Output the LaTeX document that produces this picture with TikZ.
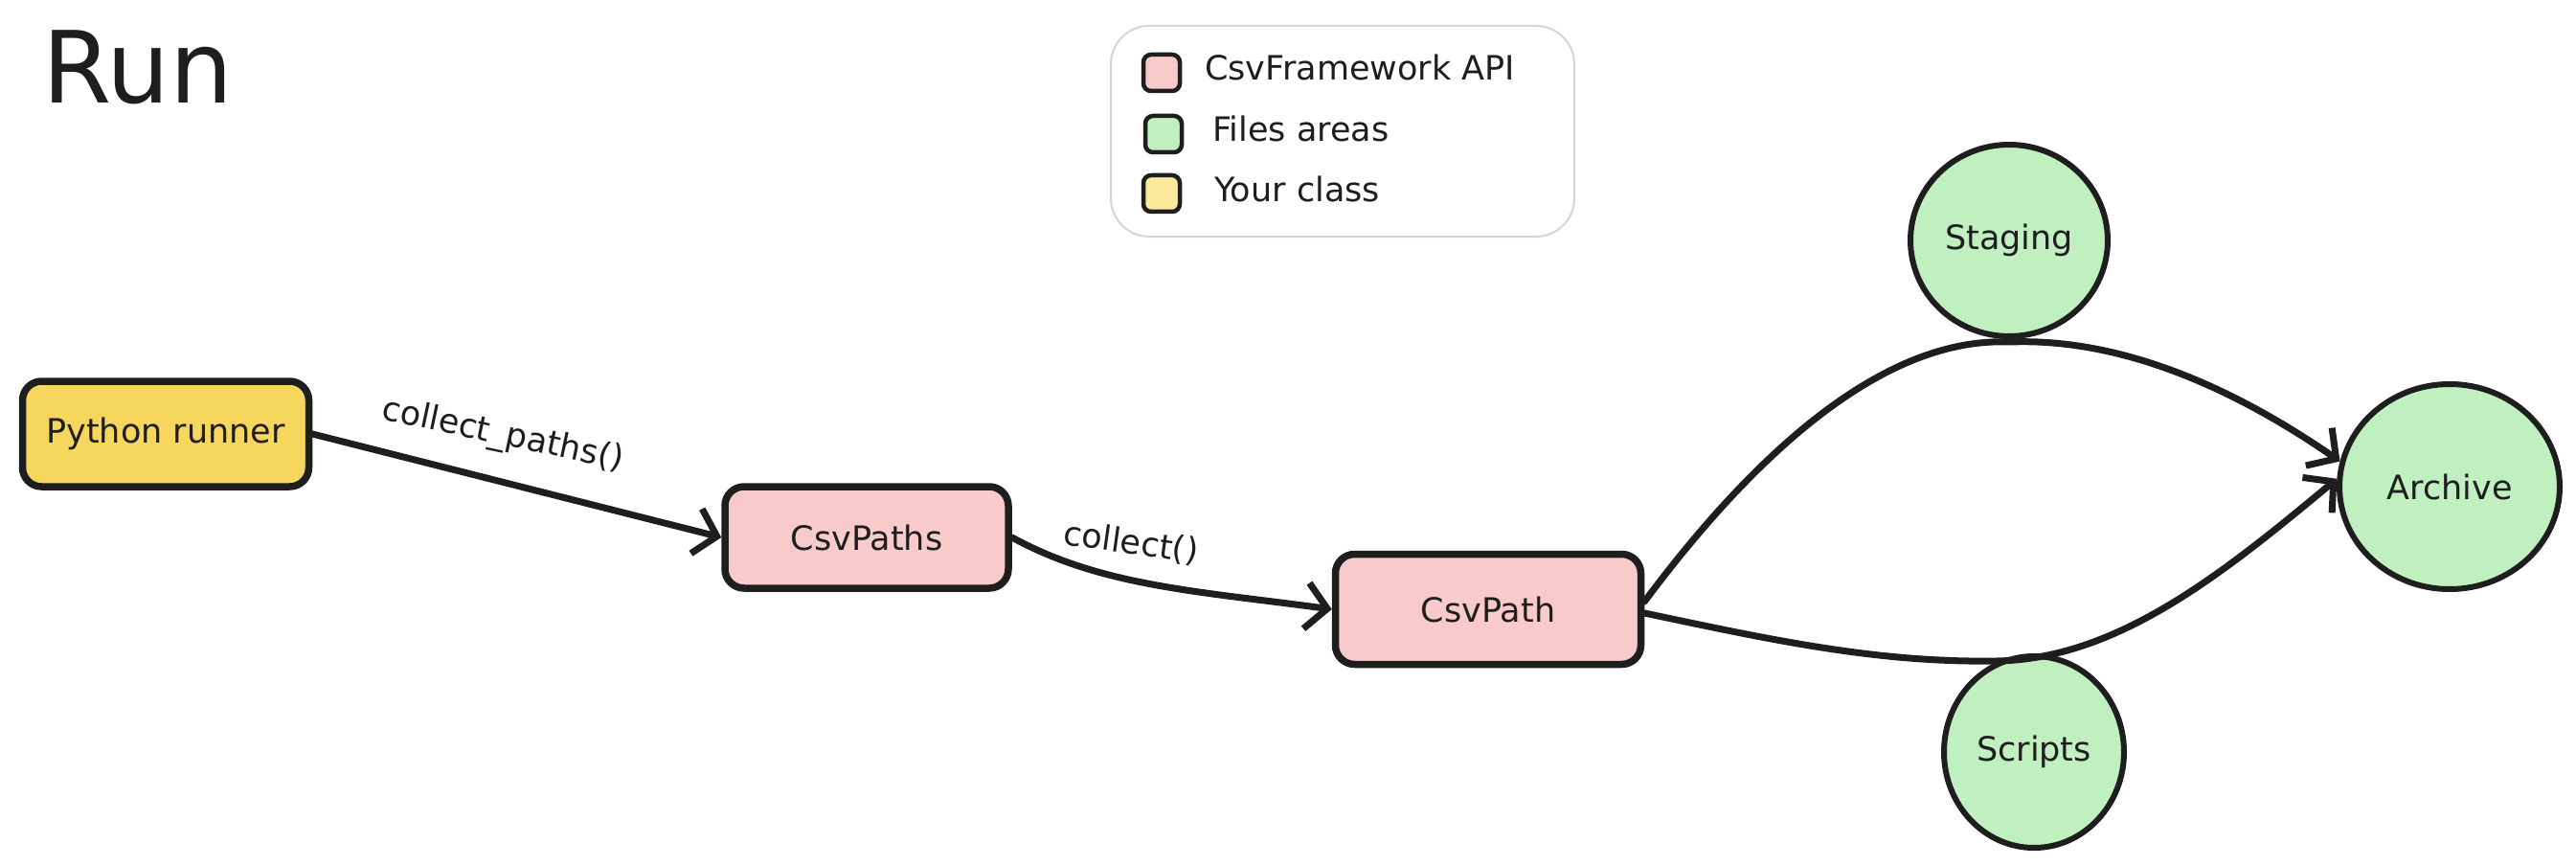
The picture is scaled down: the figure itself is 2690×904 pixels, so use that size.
\documentclass[tikz,border=0pt]{standalone}
\usepackage{fontspec}
\setmainfont{DejaVu Sans}
\usetikzlibrary{arrows.meta,shapes.geometric}
\definecolor{ink}{HTML}{1E1E1E}
\definecolor{yel}{HTML}{F7D65E}
\definecolor{lyel}{HTML}{FCE99C}
\definecolor{pnk}{HTML}{F8CBCA}
\definecolor{grn}{HTML}{C0F0C0}
\definecolor{lgray}{HTML}{D2D5DA}
\tikzset{
  lbl/.style={font=\fontsize{35}{42}\selectfont, text=ink},
  boxnode/.style={draw=ink, line width=7.5pt, rounded corners=20pt, inner sep=0pt, lbl},
  area/.style={ellipse, draw=ink, line width=6pt, fill=grn, inner sep=0pt, lbl},
  legsq/.style={draw=ink, line width=4.5pt, rounded corners=8pt, minimum width=38pt, minimum height=38pt, inner sep=0pt},
  legtxt/.style={lbl, anchor=base west, inner sep=0pt},
  conn/.style={draw=ink, line width=7pt, line cap=round, -{Straight Barb[length=22pt,width=48pt]}},
  elbl/.style={lbl, inner sep=0pt}
}
\begin{document}
\begin{tikzpicture}[x=1pt,y=-1pt]
\useasboundingbox (0,0) rectangle (2690,904);

% title
\node[anchor=base west, inner sep=0pt, font=\fontsize{104}{115}\selectfont, text=ink] (title) at (44,108) {Run};

% legend
\node[draw=lgray, line width=2pt, rounded corners=40pt, fill=white, minimum width=484pt, minimum height=220pt, inner sep=0pt] (legend) at (1402,137) {};
\node[legsq, fill=pnk] (sq1) at (1213,76) {};
\node[legsq, fill=grn] (sq2) at (1215,140) {};
\node[legsq, fill=lyel] (sq3) at (1213,202) {};
\node[legtxt] (t1) at (1258,84) {CsvFramework API};
\node[legtxt] (t2) at (1266,148) {Files areas};
\node[legtxt] (t3) at (1268,211) {Your class};

% main nodes
\node[boxnode, fill=yel, minimum width=299pt, minimum height=110pt] (python) at (173,453) {Python runner};
\node[boxnode, fill=pnk, minimum width=296pt, minimum height=106pt] (csvpaths) at (905,561) {CsvPaths};
\node[boxnode, fill=pnk, minimum width=319pt, minimum height=115pt] (csvpath) at (1554,636) {CsvPath};
\node[area, minimum width=206pt, minimum height=200pt] (staging) at (2098,251) {Staging};
\node[area, minimum width=230pt, minimum height=214pt] (archive) at (2558,508) {Archive};
\node[area, minimum width=188pt, minimum height=200pt] (scripts) at (2124,785) {Scripts};

% connectors
\draw[conn] (python.east) -- (csvpaths.west);
\node[elbl, rotate=-12] (lab1) at (525,455) {collect\_paths()};

\draw[conn] (csvpaths.east) .. controls (1150,612) and (1250,617) .. (csvpath.west);
\node[elbl, rotate=-8] (lab2) at (1181,567) {collect()};

\coordinate (up) at ([yshift=-3pt]staging.south);
\coordinate (dn) at (2085,690);
\draw[conn] ([yshift=8pt]csvpath.east) .. controls (1850,450) and (1980,352) .. (up)
  .. controls (2220,352) and (2340,410) .. (archive.167);
\draw[conn] ([yshift=-4pt]csvpath.east) .. controls (1850,668) and (1960,692) .. (dn)
  .. controls (2210,688) and (2320,600) .. (archive.176);
\end{tikzpicture}
\end{document}
